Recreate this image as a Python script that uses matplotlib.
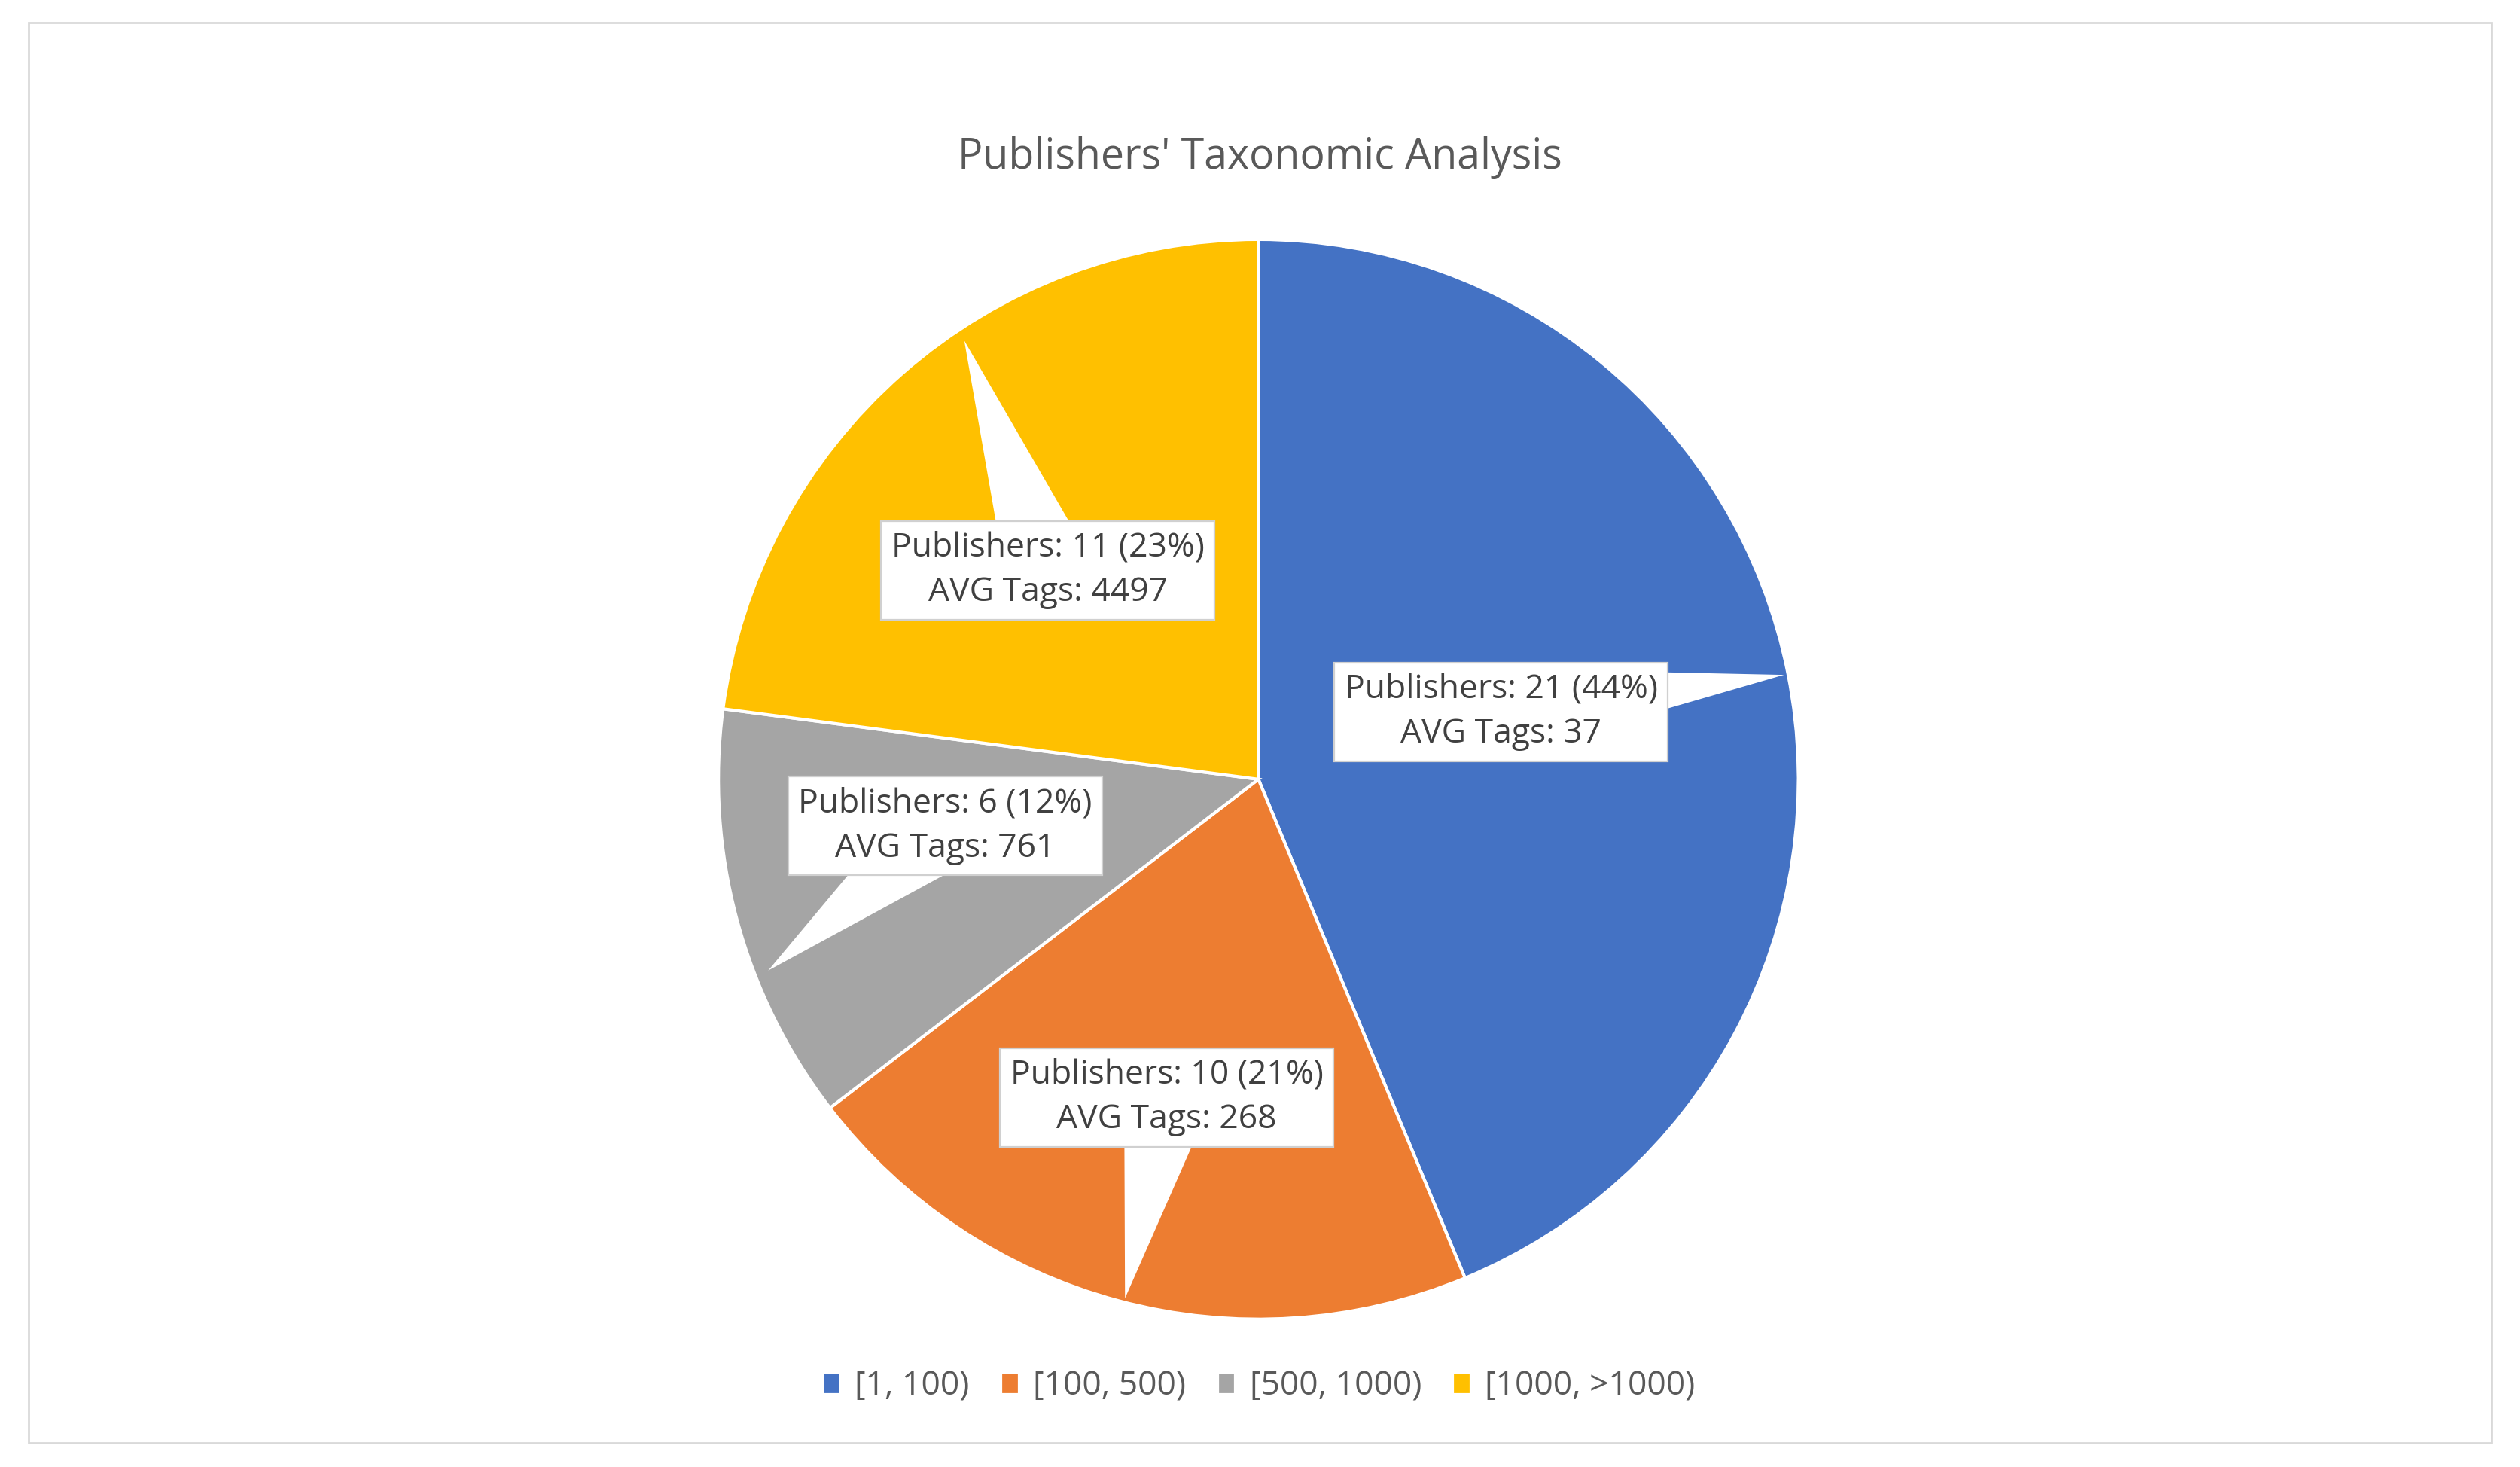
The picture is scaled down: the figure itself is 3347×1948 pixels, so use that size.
import matplotlib
matplotlib.use("Agg")
import matplotlib.pyplot as plt
from matplotlib.patches import Rectangle

categories = ["[1, 100)", "[100, 500)", "[500, 1000)", "[1000, >1000)"]
publishers = [21, 10, 6, 11]
percents = [44, 21, 12, 23]
avg_tags = [37, 268, 761, 4497]
colors = ["#4472C4", "#ED7D31", "#A5A5A5", "#FFC000"]

plt.rcParams['font.family'] = ['Open Sans', 'DejaVu Sans']
W, H = 1568, 913
fig = plt.figure(figsize=(16.735, 9.74), dpi=200)
fig.patches.append(Rectangle((18/W, 1-898/H), 1532/W, 884/H, transform=fig.transFigure,
                             fill=False, ec="#d9d9d9", lw=1))

cx, cy, r = 783/W, 1-485/H, 336
ax = fig.add_axes([cx - r/W, cy - r/H, 2*r/W, 2*r/H])
wedges, _ = ax.pie(publishers, colors=colors, startangle=90, counterclock=False,
                   wedgeprops=dict(edgecolor="white", linewidth=1.5), radius=1)
ax.set_xlim(-1, 1); ax.set_ylim(-1, 1); ax.set_aspect('auto')

fig.text(0.5, 1-98/H, "Publishers' Taxonomic Analysis", ha="center", va="center",
         fontsize=20, color="#595959")

box_pos = [(934, 443), (726, 683), (588, 514), (652, 355)]
tips = [(1110, 420), (700, 808), (478, 604), (600, 212)]
for i in range(4):
    txt = f"Publishers: {publishers[i]} ({percents[i]}%)\nAVG Tags: {avg_tags[i]}"
    fig.text(box_pos[i][0]/W, 1-box_pos[i][1]/H, txt, ha="center", va="center", fontsize=16,
             color="#404040", linespacing=1.45, zorder=5,
             bbox=dict(boxstyle="square,pad=0.3", fc="white", ec="#d0d0d0", lw=0.8))
    fig.add_artist(plt.Annotation("", xy=(tips[i][0]/W, 1-tips[i][1]/H), xycoords="figure fraction",
                                  xytext=(box_pos[i][0]/W, 1-box_pos[i][1]/H), textcoords="figure fraction",
                                  arrowprops=dict(arrowstyle="wedge,tail_width=1.6,shrink_factor=0.5",
                                                  fc="white", ec="none", mutation_scale=26, shrinkA=0, shrinkB=0),
                                  zorder=4))

handles = [plt.Rectangle((0, 0), 1, 1, color=c) for c in colors]
fig.legend(handles, categories, loc="center", bbox_to_anchor=(0.5, 1-863/H), ncol=4, frameon=False,
           fontsize=16, handlelength=0.4, handleheight=0.4, columnspacing=1.0, handletextpad=0.5,
           labelcolor="#595959")
fig.savefig("out.png", dpi=200)
